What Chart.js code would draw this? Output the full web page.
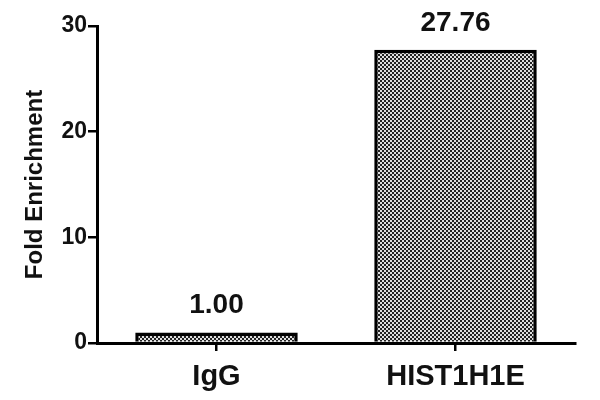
<!DOCTYPE html>
<html>
<head>
<meta charset="utf-8">
<script src="https://cdn.jsdelivr.net/npm/chart.js@4/dist/chart.umd.min.js"></script>
<style>
  html, body { margin: 0; padding: 0; background: #fff; }
  #wrap { width: 600px; height: 400px; }
</style>
</head>
<body>
<div id="wrap"><canvas id="chart" width="600" height="400"></canvas></div>
<script>
// Data
const categories = ['IgG', 'HIST1H1E'];
const foldValues = [1.00, 27.76];
const valueLabels = ['1.00', '27.76'];
const yTicks = [0, 10, 20, 30];

// Checkered fill, like the dotted bars in the original figure
function makePattern() {
  const c = document.createElement('canvas');
  c.width = 4; c.height = 4;
  const g = c.getContext('2d');
  g.fillStyle = '#dedede';
  g.fillRect(0, 0, 4, 4);
  g.fillStyle = '#222';
  g.fillRect(0, 0, 2, 2);
  g.fillRect(2, 2, 2, 2);
  return g.createPattern(c, 'repeat');
}

// Value text above each bar
const valueLabelPlugin = {
  id: 'valueLabels',
  afterDatasetsDraw(chart) {
    const ctx = chart.ctx;
    const meta = chart.getDatasetMeta(0);
    ctx.save();
    ctx.font = 'bold 28px "Liberation Sans", Arial, sans-serif';
    ctx.fillStyle = '#111';
    ctx.textAlign = 'center';
    ctx.textBaseline = 'alphabetic';
    meta.data.forEach((bar, i) => {
      ctx.fillText(valueLabels[i], bar.x, bar.y - 19);
    });
    ctx.restore();
  }
};

const font = (size) => ({ family: '"Liberation Sans", Arial, sans-serif', size: size, weight: 'bold' });

new Chart(document.getElementById('chart'), {
  type: 'bar',
  data: {
    labels: categories,
    datasets: [{
      data: foldValues,
      backgroundColor: makePattern(),
      borderColor: '#000',
      borderWidth: 3.5,
      borderSkipped: 'bottom',
      categoryPercentage: 0.68,
      barPercentage: 1.0
    }]
  },
  options: {
    responsive: false,
    animation: false,
    layout: { padding: { top: 26, right: 25, left: 0, bottom: 0 } },
    plugins: {
      legend: { display: false },
      tooltip: { enabled: false }
    },
    scales: {
      x: {
        grid: {
          display: true,
          offset: false,
          drawOnChartArea: false,
          drawTicks: true,
          tickLength: 8,
          color: '#000',
          lineWidth: 2.5
        },
        border: { color: '#000', width: 3 },
        ticks: {
          color: '#111',
          padding: 9,
          font: font(29)
        },
        afterFit(scale) { scale.height = 57; }
      },
      y: {
        min: 0,
        max: 30,
        afterBuildTicks(scale) { scale.ticks = yTicks.map(v => ({ value: v })); },
        grid: {
          display: true,
          drawOnChartArea: false,
          drawTicks: true,
          tickLength: 9,
          color: '#000',
          lineWidth: 2.5
        },
        border: { color: '#000', width: 3 },
        ticks: {
          color: '#111',
          padding: 1,
          font: font(23)
        },
        title: {
          display: true,
          text: 'Fold Enrichment',
          color: '#111',
          padding: { top: 21, bottom: 0 },
          font: font(24)
        },
        afterFit(scale) { scale.width = 97; }
      }
    }
  },
  plugins: [valueLabelPlugin]
});
</script>
</body>
</html>
